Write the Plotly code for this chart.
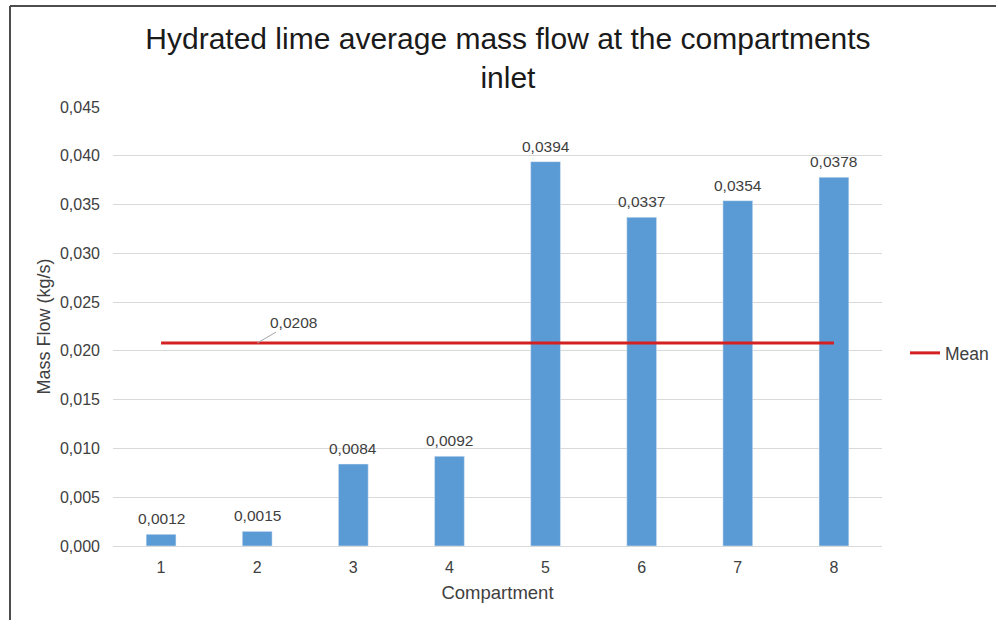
import plotly.graph_objects as go

compartments = ["1", "2", "3", "4", "5", "6", "7", "8"]
mass_flow = [0.0012, 0.0015, 0.0084, 0.0092, 0.0394, 0.0337, 0.0354, 0.0378]
mean_value = 0.0208
mean_label_category = "2"
y_ticks = [0.000, 0.005, 0.010, 0.015, 0.020, 0.025, 0.030, 0.035, 0.040, 0.045]

FONT = "Liberation Sans, Arial, sans-serif"
W, H = 996, 620
L, R, T, B = 113, 114, 107, 74
pw, ph = W - L - R, H - T - B

fig = go.Figure()
fig.add_trace(go.Bar(
    x=compartments, y=mass_flow, marker_color="#5B9BD5", width=0.31,
    showlegend=False, hoverinfo="x+y",
))
fig.add_trace(go.Scatter(
    x=compartments, y=[mean_value] * len(compartments), mode="lines",
    line=dict(color="#D42020", width=3), name="Mean",
))

# On a category axis, annotation x is the category's index position
for i, val in enumerate(mass_flow):
    fig.add_annotation(
        x=i, y=val, text=f"{val:.4f}".replace(".", ","),
        showarrow=False, yanchor="bottom", yshift=5,
        font=dict(size=15.5, color="#404040", family=FONT),
    )

fig.add_annotation(
    x=compartments.index(mean_label_category), y=mean_value,
    text=f"{mean_value:.4f}".replace(".", ","),
    showarrow=True, arrowhead=0, arrowwidth=1, arrowcolor="#A6A6A6",
    ax=36, ay=-21, font=dict(size=15.5, color="#404040", family=FONT),
)

def px_x(p):
    return (p - L) / pw

def px_y(p):
    return (H - B - p) / ph

fig.add_shape(type="line", xref="paper", yref="paper",
              x0=px_x(10), x1=px_x(1000), y0=px_y(6), y1=px_y(6),
              line=dict(color="#4D4D4D", width=2))
fig.add_shape(type="line", xref="paper", yref="paper",
              x0=px_x(10), x1=px_x(10), y0=px_y(6), y1=px_y(625),
              line=dict(color="#4D4D4D", width=2))

fig.update_layout(
    width=W, height=H,
    margin=dict(l=L, r=R, t=T, b=B),
    paper_bgcolor="white", plot_bgcolor="white",
    separators=",.",
    font=dict(family=FONT, color="#595959", size=15),
    title=dict(
        text="Hydrated lime average mass flow at the compartments<br>inlet",
        x=0.51, xanchor="center", xref="container",
        y=1 - 49 / H, yanchor="middle", yref="container",
        font=dict(size=30, color="#1A1A1A", family=FONT),
    ),
    xaxis=dict(
        type="category", range=[-0.5, len(compartments) - 0.5],
        showgrid=False, showline=False, ticks="",
        tickfont=dict(size=16, color="#404040"), ticklabelstandoff=10,
        title=dict(text="Compartment", font=dict(size=18.5, color="#404040"), standoff=11),
    ),
    yaxis=dict(
        range=[0, 0.045], tickvals=y_ticks, tickformat=".3f",
        showgrid=True, gridcolor="#D9D9D9", gridwidth=1,
        zeroline=True, zerolinecolor="#D9D9D9", zerolinewidth=1,
        showline=False, ticks="", ticklabelstandoff=12,
        tickfont=dict(size=16, color="#404040"),
        title=dict(text="Mass Flow (kg/s)", font=dict(size=18, color="#404040"), standoff=4),
    ),
    legend=dict(
        xref="container", yref="container",
        x=905 / W, y=1 - 353 / H, xanchor="left", yanchor="middle",
        font=dict(size=17.5, color="#404040"), bgcolor="rgba(0,0,0,0)",
    ),
    bargap=0.69,
)

fig.write_html("out.html")
